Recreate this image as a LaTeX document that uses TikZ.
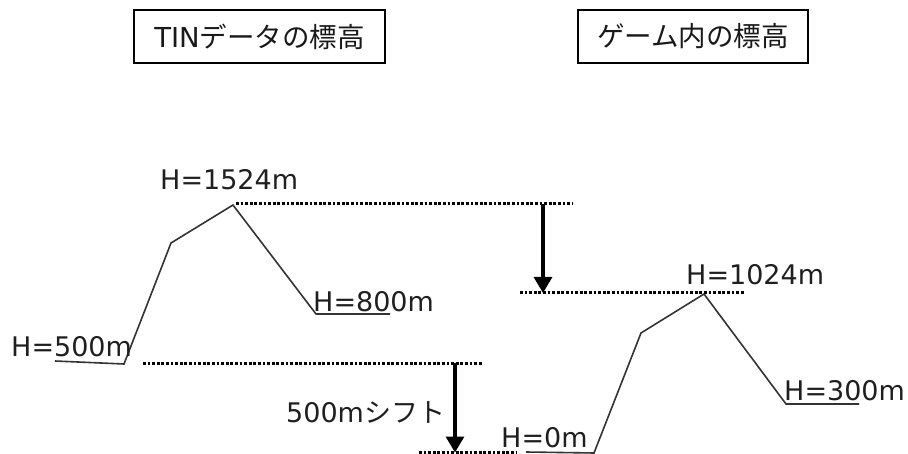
\documentclass[tikz,border=0pt]{standalone}
\usepackage{fontspec}
\setmainfont{DejaVu Sans}
\newfontfamily\jp{Noto Sans CJK JP}
\usetikzlibrary{arrows.meta}
\begin{document}
\begin{tikzpicture}[x=1pt,y=-1pt,
  titlebox/.style={draw, line width=2.8pt, minimum height=53pt, inner sep=0pt, font=\fontsize{27.5}{32}\selectfont, text=black!90},
  lbl/.style={anchor=base west, inner sep=0pt, font=\fontsize{27}{32}\selectfont, text=black!88},
  terrain/.style={draw=black!80, line width=1.6pt, line join=miter},
  level/.style={draw=black, line width=3pt, dash pattern=on 2.8pt off 1.8pt},
  shiftarrow/.style={draw=black, line width=3.2pt, -{Triangle[width=18pt,length=16pt]}}]
\useasboundingbox (0,0) rectangle (908,454);
% titles
\node[titlebox, minimum width=251pt] (t1) at (259.5,36.5) {TIN{\jp データの標高}};
\node[titlebox, minimum width=230pt] (t2) at (693,36.5) {{\jp ゲーム内の標高}};
% left terrain
\coordinate (L1) at (55,361);
\coordinate (L2) at (124,364);
\coordinate (L3) at (171,243);
\coordinate (L4) at (233,205);
\coordinate (L5) at (316,314);
\coordinate (L6) at (390,314);
\path[terrain] (L1) -- (L2) -- (L3) -- (L4) -- (L5) -- (L6);
% right terrain
\coordinate (R1) at (526,452);
\coordinate (R2) at (594,453);
\coordinate (R3) at (641,333);
\coordinate (R4) at (704,294);
\coordinate (R5) at (786,404);
\coordinate (R6) at (859,404);
\path[terrain] (R1) -- (R2) -- (R3) -- (R4) -- (R5) -- (R6);
% level lines
\coordinate (TopS) at (236,204);
\coordinate (TopE) at (573,204);
\coordinate (TopA) at (543,204);
\coordinate (PkS) at (520,293);
\coordinate (PkA) at (543,293);
\coordinate (PkE) at (745,293);
\coordinate (BaseS) at (143,363.5);
\coordinate (BaseA) at (455,363.5);
\coordinate (BaseE) at (483,363.5);
\coordinate (ZeroS) at (419,452.5);
\coordinate (ZeroA) at (455,452.5);
\coordinate (ZeroE) at (517,452.5);
\path[level] (TopS) -- (TopE);
\path[level] (PkS) -- (PkE);
\path[level] (BaseS) -- (BaseE);
\path[level] (ZeroS) -- (ZeroE);
% shift arrows
\path[shiftarrow] (TopA) -- (PkA);
\path[shiftarrow] (BaseA) -- (ZeroA);
% labels
\node[lbl] (h1524) at (160,190) {H=1524m};
\node[lbl] (h800) at (313,312) {H=800m};
\node[lbl] (h500) at (11,357) {H=500m};
\node[lbl] (h1024) at (686,285) {H=1024m};
\node[lbl] (h300) at (784,400) {H=300m};
\node[lbl] (h0) at (501,447) {H=0m};
\node[lbl] (sh) at (286,422) {500m{\jp シフト}};
\end{tikzpicture}
\end{document}
